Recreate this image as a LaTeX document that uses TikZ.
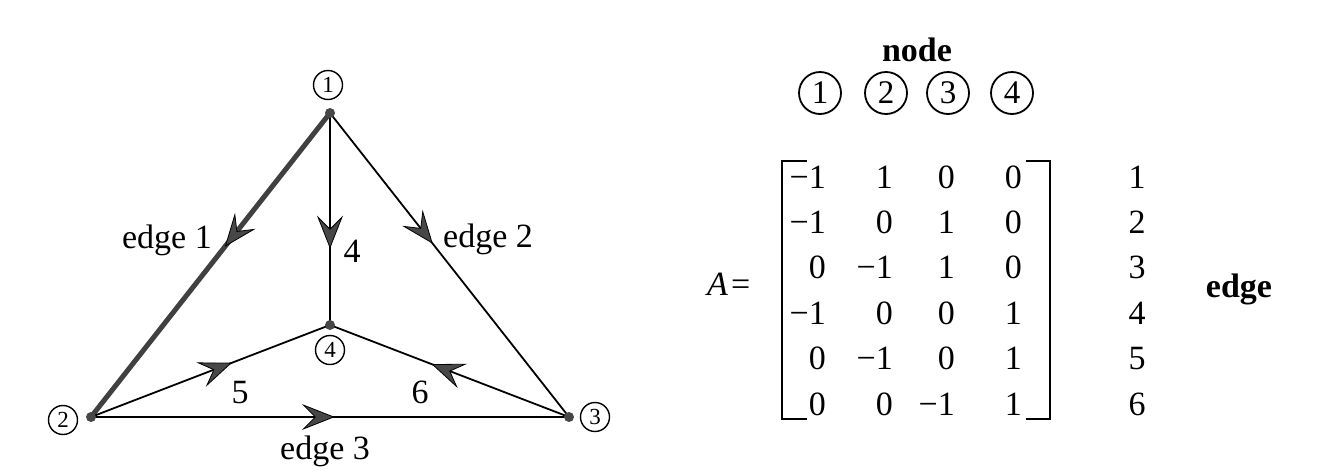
\documentclass[tikz,border=0pt]{standalone}
\usepackage{fontspec}
\setmainfont{Liberation Serif}
\usetikzlibrary{arrows.meta,decorations.markings}
\pgfdeclarelayer{bg}
\pgfsetlayers{bg,main}
\tikzset{
 big/.style={font=\fontsize{34}{40}\selectfont, inner sep=0pt},
 bigbold/.style={font=\fontsize{34}{40}\selectfont\bfseries, inner sep=0pt},
 smallcirc/.style={circle, draw, line width=1.4pt, minimum size=29pt, inner sep=0pt, font=\fontsize{23}{24}\selectfont},
 bigcirc/.style={circle, draw, line width=1.8pt, minimum size=42pt, inner sep=0pt, font=\fontsize{33}{36}\selectfont},
 vert/.style={circle, fill=black!72, minimum size=10pt, inner sep=0pt},
 midarrow/.style={postaction={decorate}, decoration={markings, mark=at position #1 with {\arrow{Stealth[length=33pt,width=26pt,inset=13pt,line width=0.8pt,fill=black!72,color=black]}}}},
 thinedge/.style={line width=1.8pt, black},
 thickedge/.style={line width=5pt, black!75},
 bracket/.style={line width=2pt},
}
\begin{document}
\begin{tikzpicture}[x=1pt, y=-1pt]
\useasboundingbox (0,0) rectangle (1330,472);
% vertices
\node[vert] (n1) at (330,113) {};
\node[vert] (n2) at (91,417) {};
\node[vert] (n3) at (569,417) {};
\node[vert] (n4) at (330,325) {};
\begin{pgfonlayer}{bg}
\fill[white] (0,0) rectangle (1330,472);
\draw[thickedge, midarrow=0.44] (n1.center) -- (n2.center);
\draw[thinedge, midarrow=0.43] (n1.center) -- (n3.center);
\draw[thinedge, midarrow=0.51] (n2.center) -- (n3.center);
\draw[thinedge, midarrow=0.64] (n1.center) -- (n4.center);
\draw[thinedge, midarrow=0.59] (n2.center) -- (n4.center);
\draw[thinedge, midarrow=0.575] (n3.center) -- (n4.center);
\end{pgfonlayer}
% vertex labels
\node[smallcirc] (c1) at (328,85) {1};
\node[smallcirc] (c2) at (63,420) {2};
\node[smallcirc] (c3) at (595,417) {3};
\node[smallcirc] (c4) at (330,350) {4};
% edge labels
\node[big, anchor=base east] (l1) at (212,248) {edge 1};
\node[big, anchor=base west] (l2) at (443,247) {edge 2};
\node[big, anchor=base] (l3) at (325,459) {edge 3};
\node[big, anchor=base] (l4) at (352,262) {4};
\node[big, anchor=base] (l5) at (240,403) {5};
\node[big, anchor=base] (l6) at (420,403) {6};
% header
\node[bigbold, anchor=base] (hd) at (917,61) {node};
\node[bigcirc] (h1) at (820,93) {1};
\node[bigcirc] (h2) at (886,93) {2};
\node[bigcirc] (h3) at (948,93) {3};
\node[bigcirc] (h4) at (1012,93) {4};
% matrix
\node[big, anchor=base west] (Aeq) at (707,295) {\textit{A}\kern3pt=};
\draw[bracket] (807,161) -- (782,161) -- (782,419) -- (807,419);
\draw[bracket] (1026,161) -- (1050,161) -- (1050,419) -- (1026,419);
\foreach \r/\a/\b/\c/\d in {1/−1/1/0/0, 2/−1/0/1/0, 3/0/−1/1/0, 4/−1/0/0/1, 5/0/−1/0/1, 6/0/0/−1/1} {
  \pgfmathsetmacro\yy{188+45.4*(\r-1)}
  \node[big, anchor=base east] (m\r a) at (826,\yy) {\a};
  \node[big, anchor=base east] (m\r b) at (893,\yy) {\b};
  \node[big, anchor=base east] (m\r c) at (955,\yy) {\c};
  \node[big, anchor=base east] (m\r d) at (1022,\yy) {\d};
  \node[big, anchor=base] (e\r) at (1137,\yy) {\r};
}
\node[bigbold, anchor=base] (edgelbl) at (1239,297) {edge};
\end{tikzpicture}
\end{document}
